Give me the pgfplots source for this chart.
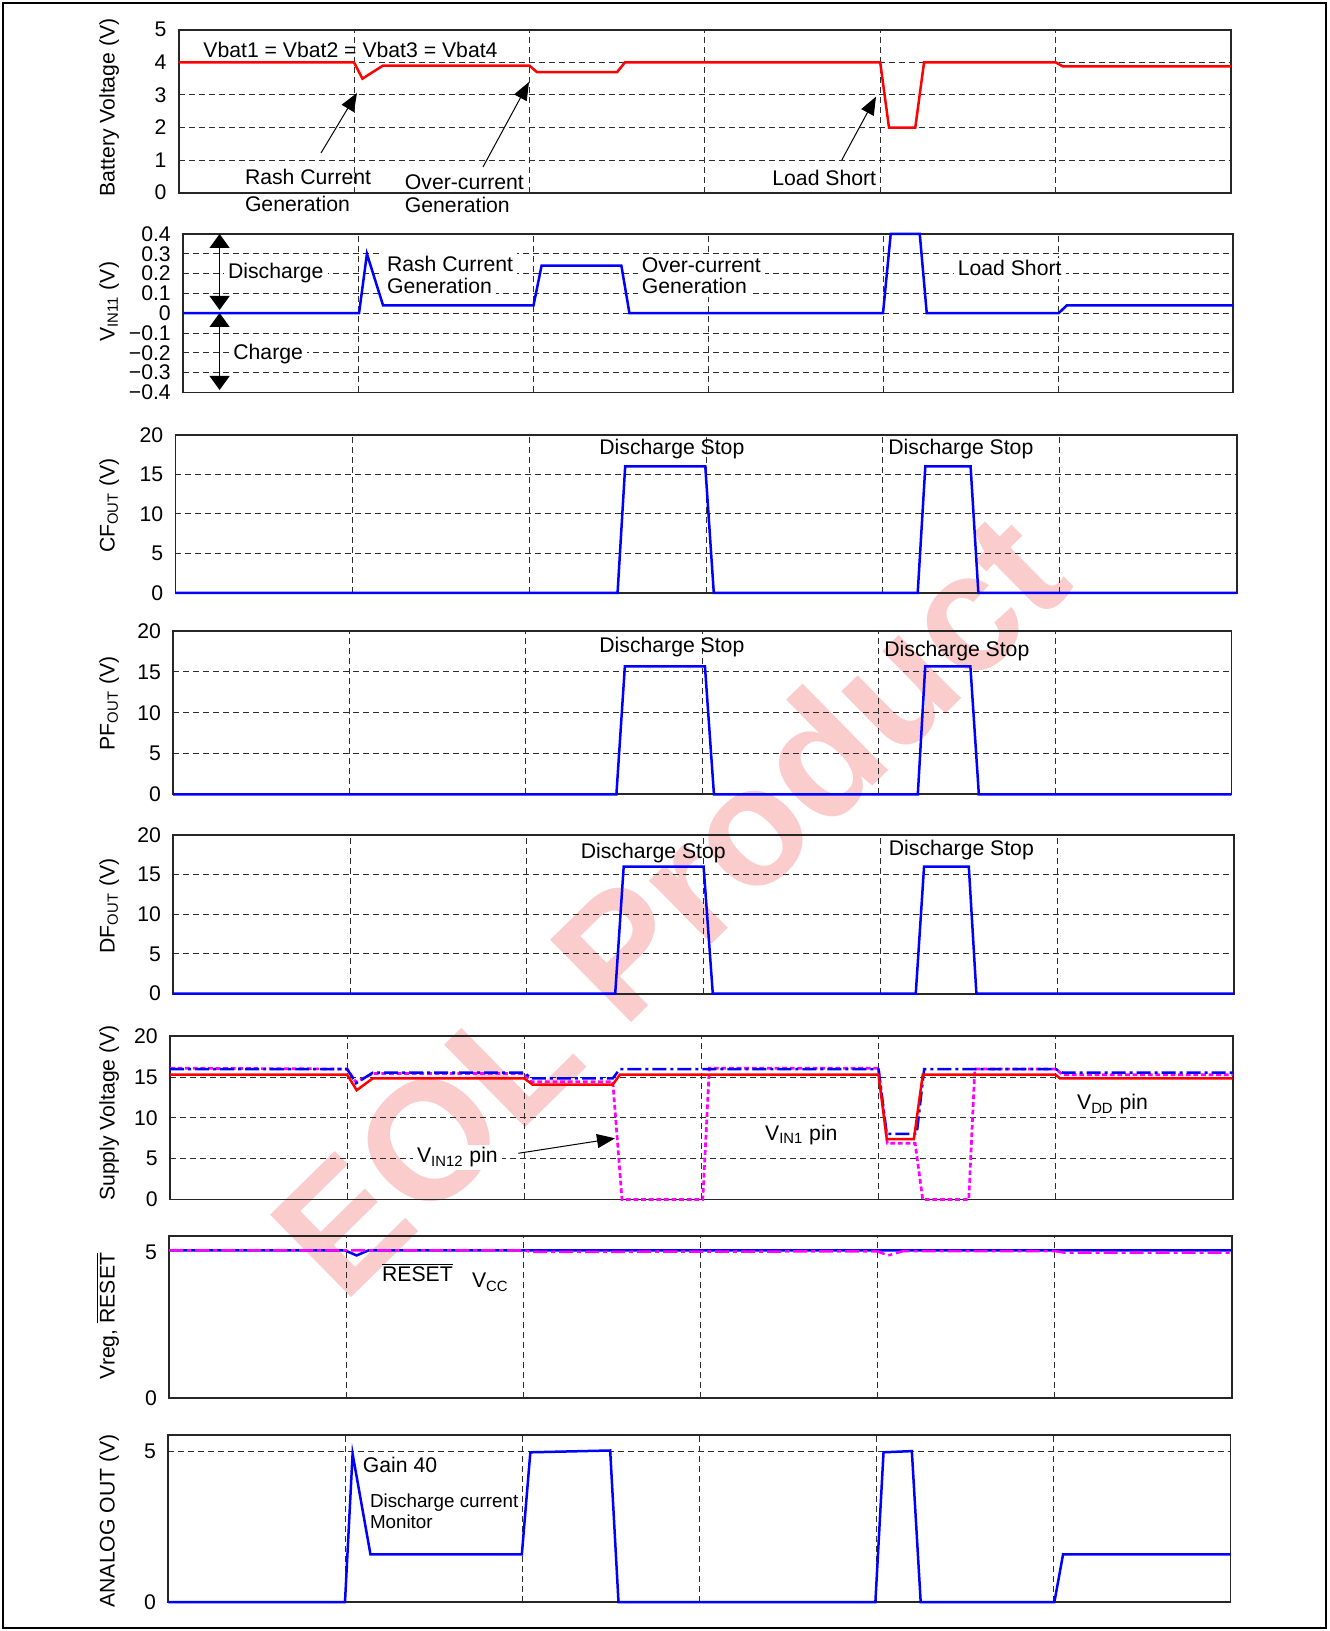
\documentclass[border=0pt]{standalone}
\usepackage{fontspec}
\setmainfont{Liberation Sans}
\usepackage{pgfplots}
\pgfplotsset{compat=1.18}
\usetikzlibrary{arrows.meta}
\newcommand{\fs}{\fontsize{10.6}{12.7}\selectfont}
\newcommand{\fss}{\fontsize{9.4}{11.3}\selectfont}
\definecolor{wm}{RGB}{251,204,204}
\definecolor{gridc}{RGB}{45,45,45}
\definecolor{mag}{RGB}{255,0,255}
\pgfplotsset{
  panel/.style={
    scale only axis, anchor=south west, xmin=0, xmax=6,
    xtick={1,2,3,4,5}, xticklabels={}, xmajorgrids=true,
    major tick length=0pt,
    major grid style={gridc, line width=0.5pt, dash pattern=on 3pt off 2pt},
    axis line style={black!85, line width=0.9pt},
    clip=false,
    yticklabel style={font=\fs, xshift=-2.6pt},
    every axis plot/.append style={line width=1.25pt, mark=none},
  }
}
\tikzset{
  lab/.style={anchor=base west, inner sep=0pt},
  labw/.style={anchor=base west, inner xsep=2pt, inner ysep=1.5pt, fill=white},
  yl/.style={rotate=90, anchor=base},
  arr/.style={line width=0.5pt, -{Triangle[length=9pt,width=7pt]}},
  darr/.style={line width=0.6pt, {Triangle[length=7pt,width=10pt]}-{Triangle[length=7pt,width=10pt]}},
}
\begin{document}
\begin{tikzpicture}[x=0.5pt,y=0.5pt,font=\fs]
\useasboundingbox (0,0) rectangle (1329,1631);
\node[rotate=44.5, text=wm, font=\fontsize{84}{92}\selectfont\bfseries] at (668,728) {EOL Product};
\draw[line width=1.3pt] (3,3) rectangle (1326,1628);

% Panel 1: battery voltage
\begin{axis}[panel, at={(89.3pt,719.15pt)}, width=526.2pt, height=81.45pt,
  ymin=0, ymax=5, ytick={0,1,2,3,4,5}, yticklabels={0,1,2,3,4,5}, ymajorgrids]
\addplot[red] coordinates {(0,4.0) (1.0,4.0) (1.048,3.5) (1.165,3.9) (2.0,3.9) (2.043,3.7) (2.50,3.7) (2.545,4.0) (4.0,4.0) (4.05,2.0) (4.2,2.0) (4.25,4.0) (5.0,4.0) (5.04,3.88) (6,3.88)};
\end{axis}

% Panel 2: VIN11
\begin{axis}[panel, at={(91.5pt,619.25pt)}, width=525pt, height=79.25pt,
  ymin=-0.4, ymax=0.4, ytick={-0.4,-0.3,-0.2,-0.1,0,0.1,0.2,0.3,0.4},
  yticklabels={−0.4,−0.3,−0.2,−0.1,0,0.1,0.2,0.3,0.4}, ymajorgrids]
\addplot[blue] coordinates {(0,0) (1.006,0) (1.051,0.3) (1.143,0.04) (2.003,0.04) (2.049,0.24) (2.505,0.24) (2.551,0) (4.0,0) (4.044,0.4) (4.21,0.4) (4.25,0) (5.004,0) (5.05,0.04) (6,0.04)};
\end{axis}

% Panel 3: CFOUT
\begin{axis}[panel, at={(87.7pt,519.05pt)}, width=530.6pt, height=79.05pt,
  ymin=0, ymax=20, ytick={0,5,10,15,20}, yticklabels={0,5,10,15,20}, ymajorgrids]
\addplot[blue] coordinates {(0,0) (2.50,0) (2.543,16) (2.996,16) (3.044,0) (4.197,0) (4.24,16) (4.496,16) (4.54,0) (6,0)};
\end{axis}

% Panel 4: PFOUT
\begin{axis}[panel, at={(86.6pt,418.35pt)}, width=529.1pt, height=81.55pt,
  ymin=0, ymax=20, ytick={0,5,10,15,20}, yticklabels={0,5,10,15,20}, ymajorgrids]
\addplot[blue] coordinates {(0,0) (2.513,0) (2.561,15.7) (3.015,15.7) (3.066,0) (4.222,0) (4.264,15.7) (4.52,15.7) (4.568,0) (6,0)};
\end{axis}

% Panel 5: DFOUT
\begin{axis}[panel, at={(86.6pt,318.65pt)}, width=530.4pt, height=79.45pt,
  ymin=0, ymax=20, ytick={0,5,10,15,20}, yticklabels={0,5,10,15,20}, ymajorgrids]
\addplot[blue] coordinates {(0,0) (2.50,0) (2.548,16) (3.0,16) (3.052,0) (4.2,0) (4.247,16) (4.5,16) (4.543,0) (6,0)};
\end{axis}

% Panel 6: supply voltage
\begin{axis}[panel, at={(85pt,215.75pt)}, width=531.35pt, height=81.55pt,
  ymin=0, ymax=20, ytick={0,5,10,15,20}, yticklabels={0,5,10,15,20}, ymajorgrids]
\addplot[mag, line width=1.35pt, dash pattern=on 2.4pt off 1.4pt] coordinates {(0,16.1) (1.0,16.0) (1.05,14.4) (1.145,15.45) (2.0,15.45) (2.04,14.45) (2.50,14.45) (2.552,0) (3.008,0) (3.045,16.1) (4.0,16.1) (4.05,6.9) (4.207,6.9) (4.25,0) (4.51,0) (4.544,16.0) (5.0,16.0) (5.04,15.3) (6,15.3)};
\addplot[blue, dash pattern=on 7pt off 2pt on 1.5pt off 2pt] coordinates {(0,16.0) (1.0,16.0) (1.05,14.25) (1.145,15.55) (2.0,15.55) (2.04,14.85) (2.50,14.85) (2.54,16.0) (4.0,16.0) (4.047,8.05) (4.216,8.05) (4.258,16.0) (5.0,16.0) (5.04,15.55) (6,15.55)};
\addplot[red] coordinates {(0,15.3) (1.0,15.3) (1.054,13.4) (1.145,14.85) (2.0,14.85) (2.047,14.1) (2.50,14.1) (2.54,15.3) (4.0,15.3) (4.047,7.4) (4.2,7.4) (4.25,15.3) (5.0,15.3) (5.025,14.85) (6,14.85)};
\end{axis}

% Panel 7: Vreg, RESET
\begin{axis}[panel, at={(84.6pt,116.3pt)}, width=531.3pt, height=81pt,
  ymin=0, ymax=5.53, ytick={0,5}, yticklabels={0,5}]
\addplot[blue] coordinates {(0,5.05) (0.993,5.05) (1.058,4.88) (1.124,5.05) (6,5.05)};
\addplot[mag, dash pattern=on 7pt off 2pt on 2pt off 2pt] coordinates {(0,5.05) (2.0,5.05) (2.05,5.0) (4.0,5.02) (4.06,4.88) (4.145,5.03) (5.0,5.03) (5.05,4.98) (6,4.98)};
\end{axis}

% Panel 8: analog out
\begin{axis}[panel, at={(84.15pt,14.4pt)}, width=531.1pt, height=83.4pt,
  ymin=0, ymax=5.52, ytick={0,5}, yticklabels={0,5}, ymajorgrids]
\addplot[blue] coordinates {(0,0) (0.998,0) (1.041,4.91) (1.142,1.58) (1.997,1.58) (2.045,4.96) (2.496,5.02) (2.543,0) (3.994,0) (4.04,4.96) (4.2,5.0) (4.25,0) (5.005,0) (5.054,1.58) (6,1.58)};
\end{axis}

% y labels
\node[yl] at (114.5,1523.5) {Battery Voltage (V)};
\node[yl] at (114.5,1329.3) {V\textsubscript{IN11} (V)};
\node[yl] at (114.5,1125.4) {CF\textsubscript{OUT} (V)};
\node[yl] at (114.5,927.5) {PF\textsubscript{OUT} (V)};
\node[yl] at (114.5,725) {DF\textsubscript{OUT} (V)};
\node[yl] at (114.5,518) {Supply Voltage (V)};
\node[yl] at (114.5,315) {Vreg, $\overline{\hbox{RESET}}$};
\node[yl] at (114.5,110) {ANALOG OUT (V)};

% Panel 1 annotations
\node[lab] at (203,1573) {Vbat1 = Vbat2 = Vbat3 = Vbat4};
\node[lab] at (244.6,1446) {Rash Current};
\node[lab] at (244.6,1419) {Generation};
\node[lab] at (404.5,1441) {Over-current};
\node[lab] at (404.5,1418) {Generation};
\node[lab] at (772,1445) {Load Short};
\draw[arr] (321,1478) -- (357,1538);
\draw[arr] (483,1464) -- (529,1549);
\draw[arr] (841.8,1471) -- (876,1534.3);

% Panel 2 annotations
\draw[darr] (219.6,1321) -- (219.6,1397);
\draw[darr] (219.6,1318) -- (219.6,1241);
\node[labw] at (223.7,1352.5) {Discharge};
\node[labw] at (229,1271.5) {Charge};
\node[labw] at (382.6,1359.5) {Rash Current};
\node[labw] at (382.6,1337) {Generation};
\node[labw] at (637.5,1358) {Over-current};
\node[labw] at (637.5,1337) {Generation};
\node[labw] at (953.4,1355) {Load Short};

% Panels 3-5 annotations
\node[lab] at (599,1176) {Discharge Stop};
\node[lab] at (888,1176) {Discharge Stop};
\node[lab] at (599,978) {Discharge Stop};
\node[lab] at (884,974) {Discharge Stop};
\node[lab] at (580.4,772.5) {Discharge Stop};
\node[lab] at (888.5,775.5) {Discharge Stop};

% Panel 6 annotations
\node[labw] at (412.7,468) {V\textsubscript{IN12} pin};
\draw[arr] (518.3,477.7) -- (615,492.7);
\node[lab] at (764.7,490.5) {V\textsubscript{IN1} pin};
\node[lab] at (1076.7,521) {V\textsubscript{DD} pin};

% Panel 7 annotations
\node[lab] at (381.7,349.3) {$\overline{\hbox{RESET}}$};
\node[lab] at (471.7,343) {V\textsubscript{CC}};

% Panel 8 annotations
\node[lab] at (362.5,158.2) {Gain 40};
\node[lab, font=\fss] at (369.6,123) {Discharge current};
\node[lab, font=\fss] at (369.6,102.6) {Monitor};
\end{tikzpicture}
\end{document}
